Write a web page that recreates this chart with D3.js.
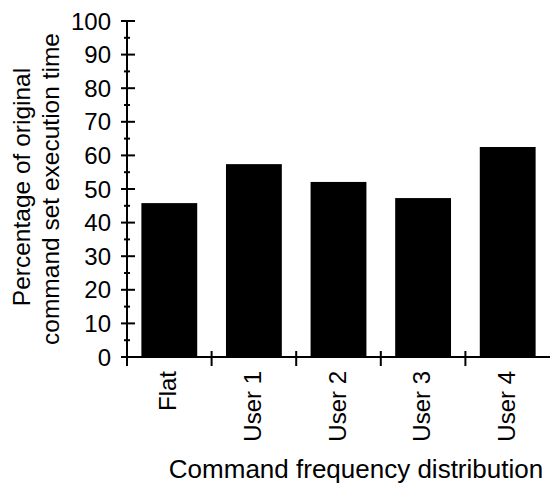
<!DOCTYPE html>
<html>
<head>
<meta charset="utf-8">
<script src="https://cdn.jsdelivr.net/npm/d3@7"></script>
<style>
  body { margin: 0; background: #fff; }
  text { font-family: "Liberation Sans", Arial, sans-serif; fill: #000; }
</style>
</head>
<body>
<svg width="552" height="483"></svg>
<script>
const width = 552;
const height = 483;

// data
const categories = ["Flat", "User 1", "User 2", "User 3", "User 4"];
const values = [45.8, 57.4, 52.1, 47.3, 62.5];
const yTicks = [0, 10, 20, 30, 40, 50, 60, 70, 80, 90, 100];
const yMinorTicks = [5, 15, 25, 35, 45, 55, 65, 75, 85, 95];

const svg = d3.select("svg");

const x = d3.scaleBand().domain(categories).range([127, 550]).paddingInner(0.34).paddingOuter(0.17);
const y = d3.scaleLinear().domain([0, 100]).range([357, 21]);

// bars
svg.selectAll("rect.bar")
  .data(categories)
  .enter()
  .append("rect")
  .attr("class", "bar")
  .attr("x", (d) => x(d))
  .attr("y", (d, i) => y(values[i]))
  .attr("width", x.bandwidth())
  .attr("height", (d, i) => y(0) - y(values[i]))
  .attr("fill", "#000");

// y axis
const yAxis = svg.append("g").attr("transform", "translate(127,0)");
yAxis.append("line")
  .attr("y1", y(0)).attr("y2", y(100))
  .attr("stroke", "#000").attr("stroke-width", 2);
yAxis.selectAll("line.major")
  .data(yTicks)
  .enter()
  .append("line")
  .attr("class", "major")
  .attr("x1", -6).attr("x2", 8)
  .attr("y1", (d) => y(d)).attr("y2", (d) => y(d))
  .attr("stroke", "#000").attr("stroke-width", 2);
yAxis.selectAll("line.minor")
  .data(yMinorTicks)
  .enter()
  .append("line")
  .attr("class", "minor")
  .attr("x1", -3).attr("x2", 3)
  .attr("y1", (d) => y(d)).attr("y2", (d) => y(d))
  .attr("stroke", "#000").attr("stroke-width", 2);
yAxis.selectAll("text")
  .data(yTicks)
  .enter()
  .append("text")
  .attr("x", -16)
  .attr("y", (d) => y(d))
  .attr("dy", "0.36em")
  .attr("text-anchor", "end")
  .style("font-size", "24px")
  .text((d) => d);

// x axis
const xAxis = svg.append("g").attr("transform", `translate(0,${y(0)})`);
xAxis.append("line")
  .attr("x1", 127).attr("x2", 550)
  .attr("stroke", "#000").attr("stroke-width", 2);
const step = x.step();
const boundaries = categories.map((d, i) => 127 + i * step);
xAxis.selectAll("line.tick")
  .data(boundaries)
  .enter()
  .append("line")
  .attr("class", "tick")
  .attr("x1", (d) => d).attr("x2", (d) => d)
  .attr("y1", -6).attr("y2", 9)
  .attr("stroke", "#000").attr("stroke-width", 2);
xAxis.selectAll("text")
  .data(categories)
  .enter()
  .append("text")
  .attr("transform", (d) => `translate(${x(d) + x.bandwidth() / 2 + 7},14) rotate(-90)`)
  .attr("text-anchor", "end")
  .style("font-size", "24px")
  .text((d) => d);

// titles
svg.append("text")
  .attr("transform", "translate(30,187) rotate(-90)")
  .attr("text-anchor", "middle")
  .style("font-size", "24.5px")
  .text("Percentage of original");
svg.append("text")
  .attr("transform", "translate(59,189) rotate(-90)")
  .attr("text-anchor", "middle")
  .style("font-size", "24.5px")
  .text("command set execution time");
svg.append("text")
  .attr("x", 356)
  .attr("y", 478)
  .attr("text-anchor", "middle")
  .style("font-size", "26px")
  .text("Command frequency distribution");
</script>
</body>
</html>
